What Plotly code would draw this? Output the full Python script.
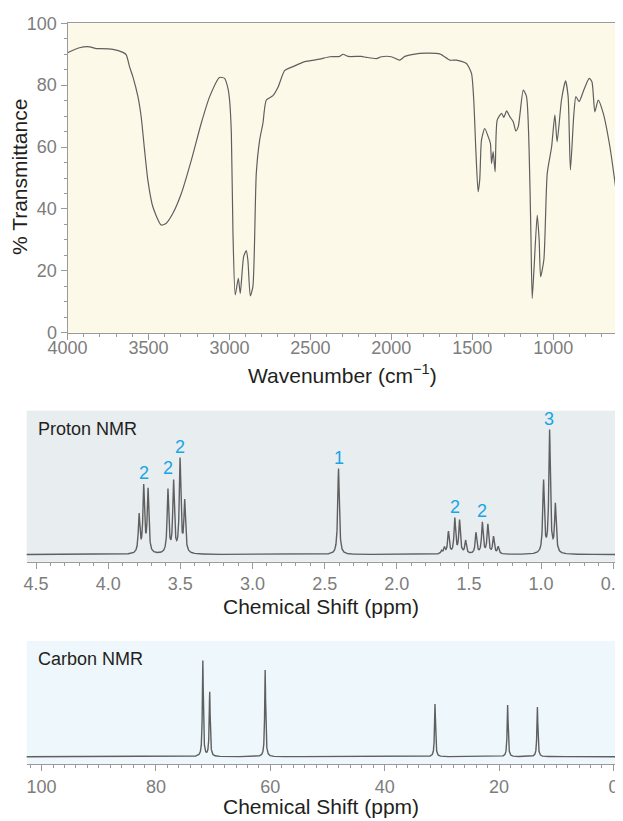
import numpy as np
import plotly.graph_objects as go

W, H = 623, 821
OFF = 8  # page body margin in the browser

# IR spectrum, points
IR_WAVENUMBER = [4000, 3926, 3864, 3823, 3803, 3720, 3658, 3637, 3617, 3596, 3565, 3545,
                 3524, 3504, 3473, 3421, 3390, 3349, 3297, 3235, 3174, 3122, 3061, 3030,
                 3009, 2999, 2988, 2978, 2964, 2945, 2933, 2912, 2896, 2886, 2871, 2855,
                 2834, 2813, 2793, 2772, 2731, 2700, 2659, 2607, 2535, 2443, 2381, 2319,
                 2298, 2268, 2185, 2154, 2092, 2061, 2000, 1948, 1917, 1825, 1701, 1639,
                 1598, 1536, 1505, 1491, 1478, 1464, 1454, 1443, 1423, 1402, 1388, 1381,
                 1371, 1359, 1346, 1319, 1305, 1288, 1268, 1247, 1231, 1216, 1185, 1165,
                 1149, 1138, 1130, 1118, 1099, 1087, 1078, 1058, 1037, 1010, 990, 976,
                 949, 924, 908, 894, 873, 860, 840, 815, 778, 761, 743, 722, 691, 650, 600]
IR_TRANSMITTANCE = [90.5, 92.1, 92.4, 91.8, 91.8, 91.6, 90.6, 89.8, 86.0, 82.7, 76.3, 69.8,
                    59.0, 49.4, 40.7, 34.8, 35.4, 38.6, 45.0, 55.8, 67.7, 76.3, 82.5, 82.2,
                    79.0, 75.2, 64.4, 32.1, 12.2, 17.6, 12.7, 24.6, 26.5, 23.5, 11.9, 14.9,
                    51.5, 62.3, 67.7, 75.2, 76.6, 79.3, 84.7, 86.0, 87.6, 88.4, 89.2, 89.3,
                    90.0, 89.3, 89.3, 89.0, 88.6, 89.2, 89.2, 88.1, 89.3, 90.3, 90.1, 88.1,
                    88.1, 87.0, 83.8, 75.2, 59.0, 45.6, 49.4, 62.3, 66.0, 63.4, 61.2, 54.7,
                    58.5, 52.0, 68.7, 70.9, 69.6, 71.7, 69.8, 68.2, 65.2, 66.6, 78.4, 76.3,
                    59.0, 32.1, 11.1, 21.3, 38.0, 30.0, 18.1, 23.5, 51.5, 60.1, 70.4, 61.7,
                    75.2, 81.4, 76.3, 52.6, 70.4, 76.3, 74.7, 77.9, 82.2, 81.1, 71.4, 75.2,
                    70.9, 60.1, 41.3]

# Proton NMR lines: shift (ppm) and peak height (relative intensity)
H_SHIFT = [3.786, 3.754, 3.724,
           3.586, 3.547, 3.502, 3.470,
           2.404,
           1.690, 1.670, 1.642, 1.598, 1.565, 1.523,
           1.451, 1.407, 1.369, 1.330, 1.297,
           0.983, 0.941, 0.901]
H_HEIGHT = [38, 66, 63,
            63, 71, 93, 51,
            86,
            3, 6, 22, 35, 33, 13,
            21, 31, 29, 17, 7,
            72, 122, 48]

# integration labels
H_LABEL_SHIFT = [3.754, 3.586, 3.505, 2.404, 1.598, 1.411, 0.945]
H_LABEL_TEXT = ["2", "2", "2", "1", "2", "2", "3"]

# Carbon NMR lines
C_SHIFT = [71.8, 70.6, 60.9, 31.2, 18.5, 13.3]
C_HEIGHT = [95.7, 64.4, 86.7, 52.7, 51.7, 49.7]


def lorentz(x, centers, heights, hw):
    y = np.zeros_like(x)
    for c, h in zip(centers, heights):
        y += h * hw ** 2 / ((x - c) ** 2 + hw ** 2)
    return y


h_x = np.linspace(4.6, 0.44, 7000)
h_y = lorentz(h_x, H_SHIFT, H_HEIGHT, 0.0065)
c_x = np.linspace(103.5, -1.5, 9000)
c_y = lorentz(c_x, C_SHIFT, C_HEIGHT, 0.1)

FONT = "Liberation Sans, Arial, Helvetica, sans-serif"
TICK_FONT = dict(family=FONT, size=18, color="#7d7d7d")
TITLE_FONT = dict(family=FONT, size=21, color="#231f20")
AXIS_GRAY = "#9a9a9a"
LINE_GRAY = "#5f5f5f"
CYAN = "#17a5e6"

FW, FH = W - OFF, H - OFF


def px_x(p):
    return (p - OFF) / FW


def px_y(p):
    return 1 - (p - OFF) / FH


fig = go.Figure()
fig.add_trace(go.Scatter(x=IR_WAVENUMBER, y=IR_TRANSMITTANCE, mode="lines",
                         line=dict(color=LINE_GRAY, width=1.2, shape="spline", smoothing=0.6),
                         xaxis="x", yaxis="y", hoverinfo="skip"))
fig.add_trace(go.Scatter(x=h_x, y=h_y, mode="lines",
                         line=dict(color=LINE_GRAY, width=1.4),
                         xaxis="x2", yaxis="y2", hoverinfo="skip"))
fig.add_trace(go.Scatter(x=c_x, y=c_y, mode="lines",
                         line=dict(color=LINE_GRAY, width=1.4),
                         xaxis="x3", yaxis="y3", hoverinfo="skip"))

axis_common = dict(showgrid=False, zeroline=False, showline=True, linecolor=AXIS_GRAY,
                   linewidth=1, ticks="outside", tickcolor=AXIS_GRAY, ticklen=6,
                   tickfont=TICK_FONT, automargin=False, ticklabeloverflow="allow")

fig.update_layout(
    width=FW, height=FH,
    margin=dict(l=0, r=0, t=0, b=0, autoexpand=False),
    paper_bgcolor="white", plot_bgcolor="rgba(0,0,0,0)",
    showlegend=False,
    xaxis=dict(**axis_common, domain=[px_x(67.5), px_x(618)], anchor="y",
               range=[4000, 600], tickvals=[4000, 3500, 3000, 2500, 2000, 1500, 1000],
               mirror=True, ticklabelstandoff=-7,
               minor=dict(dtick=100, ticks="outside", ticklen=3, tickcolor=AXIS_GRAY)),
    yaxis=dict(**axis_common, domain=[px_y(332.7), px_y(23.3)], anchor="x",
               range=[0, 100], dtick=20, mirror=True,
               minor=dict(dtick=5, ticks="outside", ticklen=3, tickcolor=AXIS_GRAY)),
    xaxis2=dict(**axis_common, domain=[px_x(26.7), px_x(618)], anchor="y2",
                range=[4.565, 0.467], dtick=0.5, tickformat=".1f",
                minor=dict(dtick=0.1, ticks="outside", ticklen=3, tickcolor=AXIS_GRAY)),
    yaxis2=dict(domain=[px_y(561.7), px_y(410.7)], anchor="x2", range=[-7.2, 143.8],
                visible=False, automargin=False),
    xaxis3=dict(**axis_common, domain=[px_x(26.7), px_x(618)], anchor="y3",
                range=[102.6, -0.8], dtick=20,
                minor=dict(dtick=2, ticks="outside", ticklen=3, tickcolor=AXIS_GRAY)),
    yaxis3=dict(domain=[px_y(764), px_y(641)], anchor="x3", range=[-7.3, 115.7],
                visible=False, automargin=False),
)

# panel backgrounds
for xr, yr, col in [("x", "y", "#fdf9e8"), ("x2", "y2", "#e8edf0"), ("x3", "y3", "#eef7fc")]:
    fig.add_shape(type="rect", xref=xr + " domain", yref=yr + " domain",
                  x0=0, x1=1, y0=0, y1=1, fillcolor=col, line_width=0, layer="below")


def paper_text(text, x, y, font, xanchor="center", angle=0):
    fig.add_annotation(text=text, x=px_x(x), y=px_y(y), xref="paper", yref="paper",
                       xanchor=xanchor, yanchor="middle", textangle=angle,
                       showarrow=False, font=font)


# axis titles
paper_text("Wavenumber (cm<sup>\u22121</sup>)", 342, 374, TITLE_FONT)
paper_text("% Transmittance", 20, 177, TITLE_FONT, angle=-90)
paper_text("Chemical Shift (ppm)", 321, 606, TITLE_FONT)
paper_text("Chemical Shift (ppm)", 321, 806, TITLE_FONT)

# panel names
paper_text("Proton NMR", 36, 429, dict(family=FONT, size=18, color="#231f20"), xanchor="left")
paper_text("Carbon NMR", 36, 659, dict(family=FONT, size=18, color="#231f20"), xanchor="left")

# integration labels, just above the tallest nearby line
for s, t in zip(H_LABEL_SHIFT, H_LABEL_TEXT):
    near = np.abs(h_x - s) < 0.045
    top = float(h_y[near].max())
    fig.add_annotation(text=t, x=s, y=top + 11, xref="x2", yref="y2", showarrow=False,
                       xanchor="center", yanchor="middle",
                       font=dict(family=FONT, size=18, color=CYAN))

fig.write_html("out.html")
